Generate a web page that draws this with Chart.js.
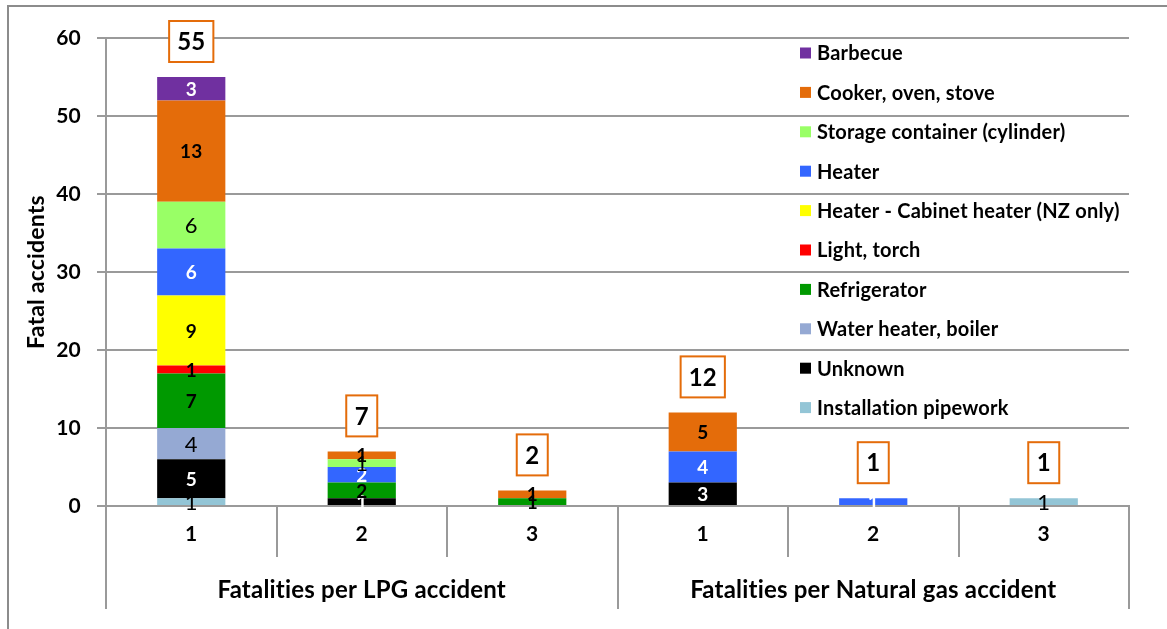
<!DOCTYPE html>
<html>
<head>
<meta charset="utf-8">
<title>Fatal accidents by appliance</title>
<script src="https://cdn.jsdelivr.net/npm/chart.js@4.4.1/dist/chart.umd.min.js"></script>
<style>
    html, body { margin: 0; padding: 0; background: #fff; }
    .chart-container { width: 1167px; height: 629px; position: relative; }
</style>
</head>
<body>
<div class="chart-container"><canvas id="myChart"></canvas></div>
<script>
var categories = ['1', '2', '3', '1', '2', '3'];
var groups = ['Fatalities per LPG accident', 'Fatalities per Natural gas accident'];
var yTicks = [0, 10, 20, 30, 40, 50, 60];

// appliance series, bottom of the stack first (LPG 1/2/3, natural gas 1/2/3)
var installation = [1, null, null, null, null, 1];
var unknown      = [5, 1, null, 3, null, null];
var waterHeater  = [4, null, null, null, null, null];
var refrigerator = [7, 2, 1, null, null, null];
var lightTorch   = [1, null, null, null, null, null];
var cabinet      = [9, null, null, null, null, null];
var heater       = [6, 2, null, 4, 1, null];
var storage      = [6, 1, null, null, null, null];
var cooker       = [13, 1, 1, 5, null, null];
var barbecue     = [3, null, null, null, null, null];
var totals       = [55, 7, 2, 12, 1, 1];

var FONT = 'Lato, "Open Sans", sans-serif';
var GRID = '#9a9a9a';
var BOX = '#e46c0a';

function series(label, data, color, textColor, bold) {
    return {
        label: label,
        data: data,
        backgroundColor: color,
        borderWidth: 0,
        barPercentage: 0.4,
        categoryPercentage: 1.0,
        textColor: textColor,
        bold: bold
    };
}

var datasets = [
    series('Installation pipework', installation, '#93c5d6', '#000', false),
    series('Unknown', unknown, '#000000', '#fff', true),
    series('Water heater, boiler', waterHeater, '#95a9d3', '#000', false),
    series('Refrigerator', refrigerator, '#009900', '#000', true),
    series('Light, torch', lightTorch, '#ff0000', '#000', true),
    series('Heater - Cabinet heater (NZ only)', cabinet, '#ffff00', '#000', true),
    series('Heater', heater, '#3366ff', '#fff', true),
    series('Storage container (cylinder)', storage, '#99ff66', '#000', false),
    series('Cooker, oven, stove', cooker, '#e46c0a', '#000', true),
    series('Barbecue', barbecue, '#7030a0', '#fff', true)
];

// partial border of the chart frame
var framePlugin = {
    id: 'frame',
    beforeDraw: function (chart) {
        var ctx = chart.ctx;
        // small spacing keeps "ti" from turning into a ligature
        ctx.letterSpacing = '0.2px';
        ctx.save();
        ctx.fillStyle = '#fff';
        ctx.fillRect(0, 0, chart.width, chart.height);
        ctx.strokeStyle = '#8c8c8c';
        ctx.lineWidth = 2;
        ctx.beginPath();
        ctx.moveTo(8, chart.height);
        ctx.lineTo(8, 6);
        ctx.lineTo(chart.width, 6);
        ctx.stroke();
        ctx.restore();
    }
};

// value written in the middle of each segment
var segmentLabels = {
    id: 'segmentLabels',
    afterDatasetsDraw: function (chart) {
        var ctx = chart.ctx;
        ctx.save();
        ctx.textAlign = 'center';
        ctx.textBaseline = 'middle';
        chart.data.datasets.forEach(function (ds, i) {
            var meta = chart.getDatasetMeta(i);
            meta.data.forEach(function (bar, j) {
                var v = ds.data[j];
                if (v === null || v === undefined) return;
                ctx.font = ds.bold ? 'bold 19px ' + FONT : '22px ' + FONT;
                ctx.fillStyle = ds.textColor;
                ctx.fillText(String(v), bar.x, (bar.y + bar.base) / 2 + 1);
            });
        });
        ctx.restore();
    }
};

// boxed totals above each stack
var totalBoxes = {
    id: 'totalBoxes',
    afterDatasetsDraw: function (chart) {
        var ctx = chart.ctx;
        var xs = chart.scales.x, ys = chart.scales.y;
        ctx.save();
        ctx.font = 'bold 24px ' + FONT;
        ctx.textAlign = 'center';
        ctx.textBaseline = 'middle';
        totals.forEach(function (t, i) {
            var x = xs.getPixelForValue(i);
            var top = ys.getPixelForValue(t);
            var w = Math.max(31, ctx.measureText(String(t)).width + 16);
            var h = 41;
            var bottom = top - 15;
            ctx.fillStyle = '#fff';
            ctx.fillRect(x - w / 2, bottom - h, w, h);
            ctx.strokeStyle = BOX;
            ctx.lineWidth = 2;
            ctx.strokeRect(x - w / 2, bottom - h, w, h);
            ctx.fillStyle = '#000';
            ctx.fillText(String(t), x, bottom - h / 2 + 1);
        });
        ctx.restore();
    }
};

// legend inside the plot, top of the stack first
var insideLegend = {
    id: 'insideLegend',
    afterDraw: function (chart) {
        var ctx = chart.ctx;
        var area = chart.chartArea;
        var x = area.right - 329;
        var y = area.top + 15;
        var step = 39.4;
        ctx.save();
        ctx.font = 'bold 20px ' + FONT;
        ctx.textAlign = 'left';
        ctx.textBaseline = 'middle';
        var list = chart.data.datasets.slice().reverse();
        list.forEach(function (ds, i) {
            var cy = y + i * step;
            ctx.fillStyle = ds.backgroundColor;
            ctx.fillRect(x, cy - 5.5, 11, 11);
            ctx.fillStyle = '#000';
            ctx.fillText(ds.label, x + 17, cy + 1);
        });
        ctx.restore();
    }
};

var ctx = document.getElementById('myChart').getContext('2d');
var myChart = new Chart(ctx, {
    type: 'bar',
    data: {
        labels: categories,
        datasets: datasets
    },
    plugins: [framePlugin, segmentLabels, totalBoxes, insideLegend],
    options: {
        responsive: true,
        maintainAspectRatio: false,
        animation: false,
        layout: { padding: { left: 12, right: 38, top: 38, bottom: 20 } },
        plugins: {
            legend: { display: false },
            tooltip: { enabled: false }
        },
        scales: {
            x: {
                stacked: true,
                offset: true,
                grid: { offset: true, drawOnChartArea: false, tickLength: 51, color: GRID, lineWidth: 2 },
                border: { display: true, color: GRID, width: 2 },
                ticks: { color: '#000', font: { family: FONT, size: 21, weight: 'bold' }, padding: -35, maxRotation: 0 },
                afterFit: function (s) { s.height = 51; }
            },
            x2: {
                type: 'category',
                labels: groups,
                position: 'bottom',
                offset: true,
                grid: { offset: true, drawOnChartArea: false, tickLength: 52, color: GRID, lineWidth: 2 },
                border: { display: false },
                ticks: { color: '#000', font: { family: FONT, size: 24, weight: 'bold' }, padding: -33, maxRotation: 0 },
                afterFit: function (s) { s.height = 52; }
            },
            y: {
                stacked: true,
                min: 0,
                max: 60,
                afterBuildTicks: function (s) {
                    s.ticks = yTicks.map(function (v) { return { value: v }; });
                },
                grid: { color: GRID, lineWidth: 2, tickLength: 9 },
                border: { display: true, color: GRID, width: 2 },
                ticks: { color: '#000', font: { family: FONT, size: 21, weight: 'bold' }, padding: 16 },
                title: {
                    display: true,
                    text: 'Fatal accidents',
                    color: '#000',
                    font: { family: FONT, size: 23, weight: 'bold' },
                    padding: { top: 11, bottom: 0 }
                },
                afterFit: function (s) { s.width = 94; }
            }
        }
    }
});
</script>
</body>
</html>
